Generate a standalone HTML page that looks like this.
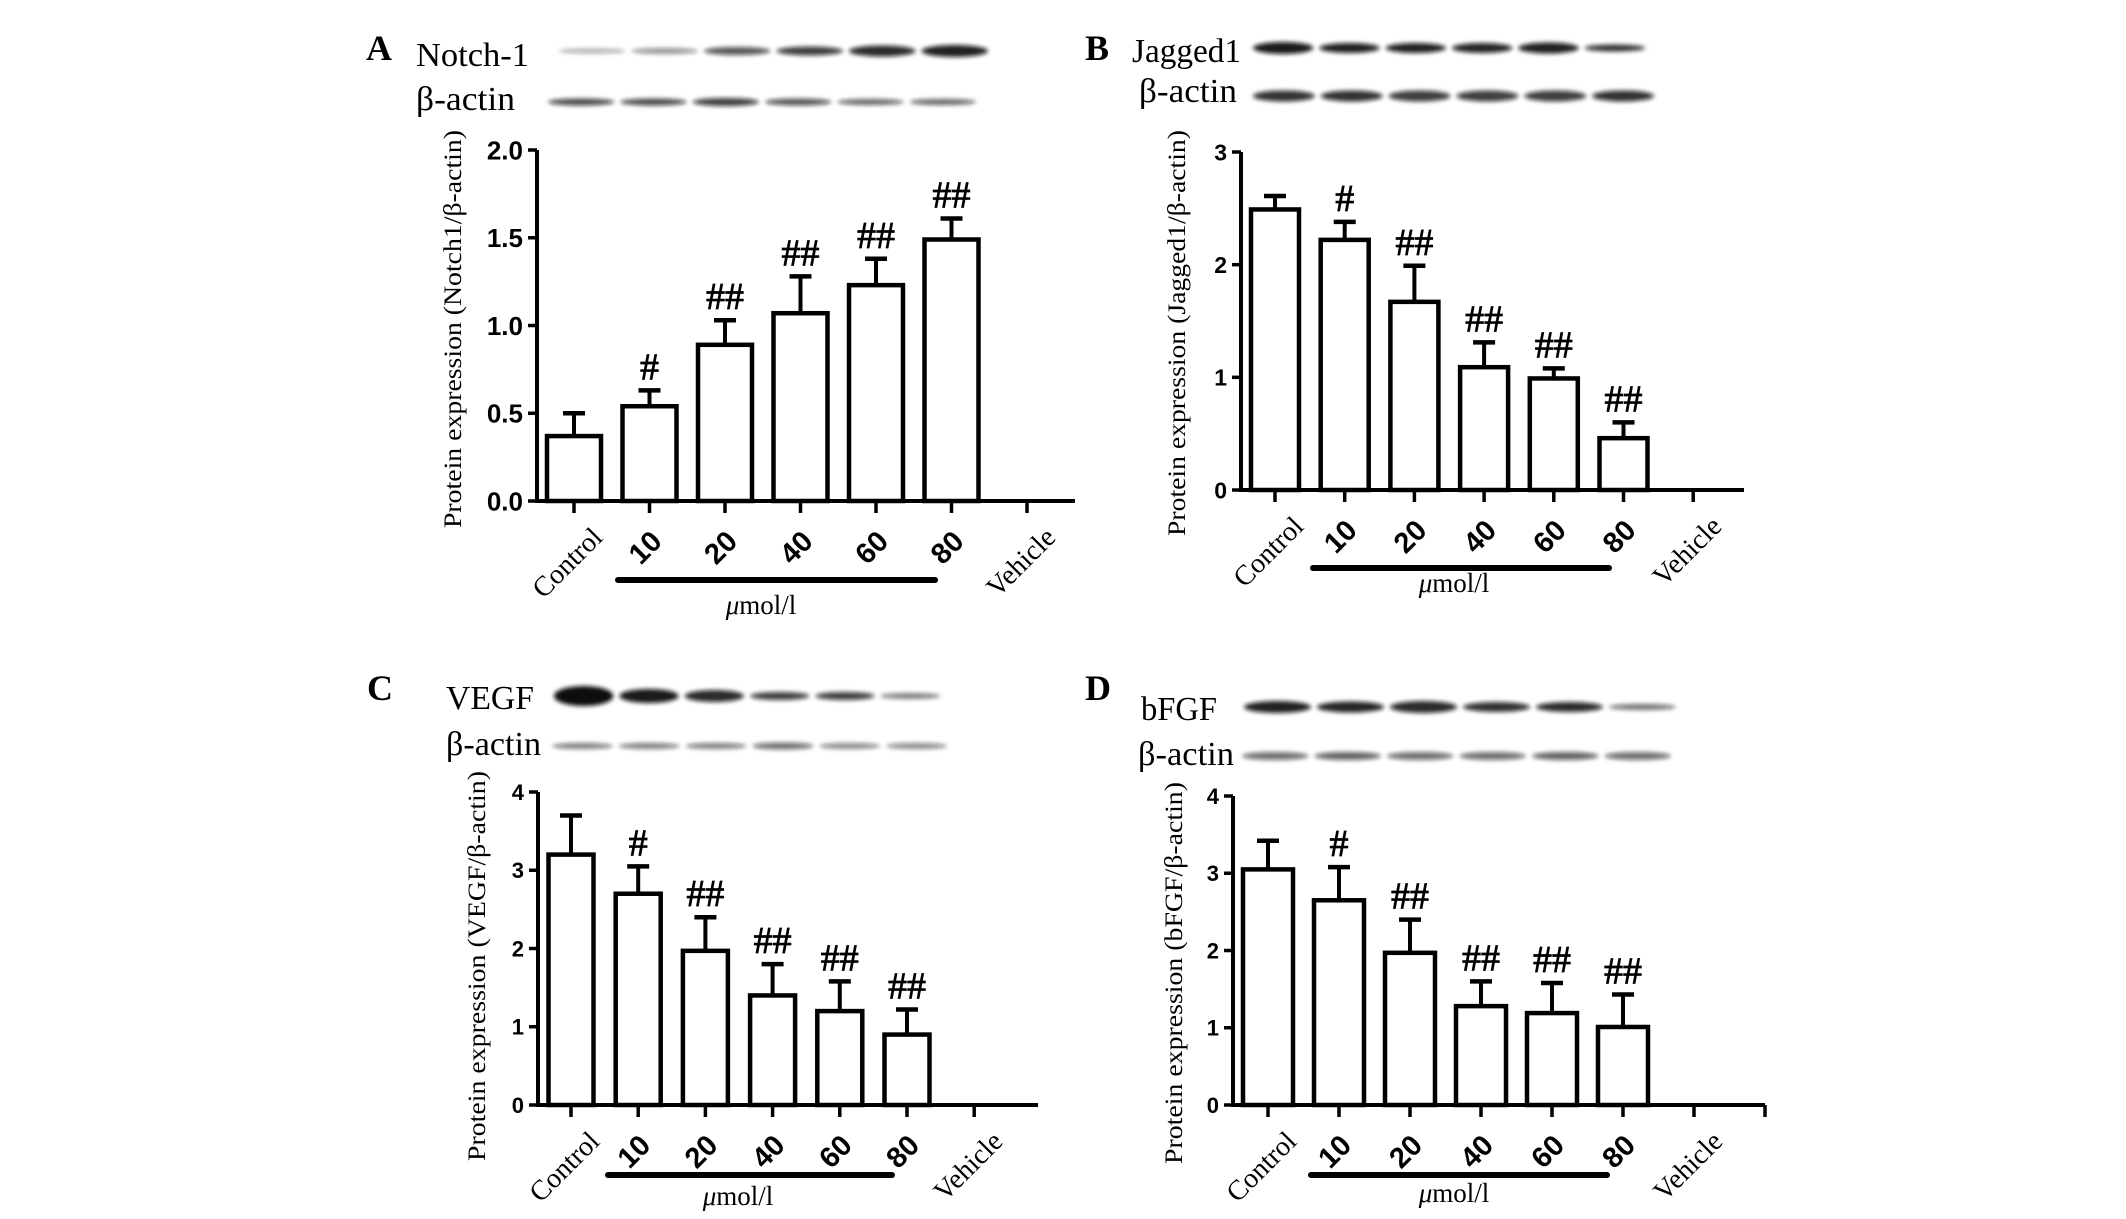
<!DOCTYPE html>
<html><head><meta charset="utf-8">
<style>
html,body{margin:0;padding:0;background:#fff;}
svg{display:block;}
.tm{font-family:"Liberation Serif",serif;}
.ar{font-family:"Liberation Sans",sans-serif;font-weight:bold;}
</style></head>
<body>
<svg id="fig" width="2126" height="1219" viewBox="0 0 2126 1219" xmlns="http://www.w3.org/2000/svg">
<defs>
<filter id="blur" x="-20%" y="-200%" width="140%" height="500%"><feGaussianBlur stdDeviation="2.2"/></filter>
</defs>
</svg>
<script>
// ---- data ----
const categories = ["Control","10","20","40","60","80","Vehicle"];
const notchMeans = [0.37,0.54,0.89,1.07,1.23,1.49];
const notchErr   = [0.50,0.63,1.03,1.28,1.38,1.61];
const notchMarks = ["","#","##","##","##","##"];
const notchTicks = [0,0.5,1,1.5,2];
const notchTickLabels = ["0.0","0.5","1.0","1.5","2.0"];
const jagMeans = [2.49,2.22,1.67,1.09,0.99,0.46];
const jagErr   = [2.61,2.38,1.99,1.31,1.08,0.60];
const jagMarks = ["","#","##","##","##","##"];
const jagTicks = [0,1,2,3];
const jagTickLabels = ["0","1","2","3"];
const vegfMeans = [3.2,2.7,1.97,1.4,1.2,0.9];
const vegfErr   = [3.7,3.05,2.4,1.8,1.58,1.22];
const vegfMarks = ["","#","##","##","##","##"];
const vegfTicks = [0,1,2,3,4];
const vegfTickLabels = ["0","1","2","3","4"];
const bfgfMeans = [3.05,2.65,1.97,1.28,1.19,1.01];
const bfgfErr   = [3.42,3.08,2.4,1.6,1.58,1.43];
const bfgfMarks = ["","#","##","##","##","##"];
const bfgfTicks = [0,1,2,3,4];
const bfgfTickLabels = ["0","1","2","3","4"];

const svg = document.getElementById('fig');
const NS = 'http://www.w3.org/2000/svg';
function mk(tag, attrs, parent){
  const el = document.createElementNS(NS, tag);
  for (const k in attrs) el.setAttribute(k, attrs[k]);
  (parent||svg).appendChild(el);
  return el;
}

const panels = [
 {id:'a', letter:'A', lx:366, ly:60, means:notchMeans, err:notchErr, marks:notchMarks, ticks:notchTicks, tickLabels:notchTickLabels,
  ax:537, y0:501, yTop:150, yMax:2, x0:574, step:75.5, barW:54, right:1075, endTick:false, tickFs:26,
  title:"Protein expression (Notch1/\u03b2-actin)", tx:453, ty0:130, ty1:528,
  prot:"Notch-1", px:416, pw:113, py:66, bx:416, bw:99, by:110,
  band1:{x0:556,x1:991,y:51, ry:[2.5,3,4,4.5,5.5,6], op:[.35,.45,.7,.8,.88,.92]},
  band2:{x0:545,x1:979,y:102, ry:[3.5,3.5,4,3.5,3,3], op:[.75,.75,.8,.7,.65,.65]},
  ul:[618,935,580], mu:[761,614]},
 {id:'b', letter:'B', lx:1085, ly:60, means:jagMeans, err:jagErr, marks:jagMarks, ticks:jagTicks, tickLabels:jagTickLabels,
  ax:1241, y0:490, yTop:152, yMax:3, x0:1275, step:69.7, barW:48, right:1744, endTick:false, tickFs:23,
  title:"Protein expression (Jagged1/\u03b2-actin)", tx:1177, ty0:130, ty1:536,
  prot:"Jagged1", px:1132, pw:109, py:62, bx:1139, bw:98, by:102,
  band1:{x0:1250,x1:1648,y:48, ry:[6,5,5,5,5.5,3.5], op:[.95,.92,.92,.9,.92,.85]},
  band2:{x0:1250,x1:1657,y:96, ry:[5.5,5.5,5.5,5.5,5.5,5.5], op:[.85,.85,.8,.8,.8,.85]},
  ul:[1313,1609,568], mu:[1454,592]},
 {id:'c', letter:'C', lx:367, ly:700, means:vegfMeans, err:vegfErr, marks:vegfMarks, ticks:vegfTicks, tickLabels:vegfTickLabels,
  ax:538, y0:1105, yTop:792, yMax:4, x0:571, step:67.2, barW:45, right:1038, endTick:false, tickFs:22,
  title:"Protein expression (VEGF/\u03b2-actin)", tx:477, ty0:771, ty1:1161,
  prot:"VEGF", px:446, pw:88, py:709, bx:446, bw:95, by:755,
  band1:{x0:551,x1:943,y:696, ry:[10,7,6,4,4,3], op:[1,.95,.88,.8,.8,.55]},
  band2:{x0:549,x1:950,y:746, ry:[3,3,3,3.5,3,3], op:[.55,.55,.55,.6,.5,.5]},
  ul:[608,892,1175], mu:[738,1205]},
 {id:'d', letter:'D', lx:1085, ly:700, means:bfgfMeans, err:bfgfErr, marks:bfgfMarks, ticks:bfgfTicks, tickLabels:bfgfTickLabels,
  ax:1233, y0:1105, yTop:796, yMax:4, x0:1268, step:71, barW:50, right:1765, endTick:true, tickFs:22,
  title:"Protein expression (bFGF/\u03b2-actin)", tx:1174, ty0:782, ty1:1164,
  prot:"bFGF", px:1141, pw:76, py:720, bx:1138, bw:96, by:765,
  band1:{x0:1241,x1:1679,y:707, ry:[6,5.5,6,5,5,3], op:[.92,.9,.88,.85,.88,.6]},
  band2:{x0:1239,x1:1674,y:756, ry:[4,4,4,4,4,4], op:[.6,.65,.6,.6,.65,.6]},
  ul:[1311,1607,1175], mu:[1454,1202]}
];

panels.forEach(p => {
  const g = mk('g', {});
  
  
  const yS = v => p.y0 - (v / p.yMax) * (p.y0 - p.yTop);
  const xS = i => p.x0 + i * p.step;

  const L = mk('text', {x:p.lx, y:p.ly, class:'tm', 'font-size':36, 'font-weight':'bold'}, g);
  L.textContent = p.letter;
  
  

  const t1 = mk('text', {x:p.px, y:p.py, class:'tm', 'font-size':34, textLength:p.pw, lengthAdjust:'spacingAndGlyphs'}, g);
  t1.textContent = p.prot;
  
  
  const t2 = mk('text', {x:p.bx, y:p.by, class:'tm', 'font-size':34, textLength:p.bw, lengthAdjust:'spacingAndGlyphs'}, g);
  t2.textContent = '\u03b2-actin';
  
  

  [p.band1, p.band2].forEach((b, bi) => {
    const bg = mk('g', {filter:'url(#blur)'}, g);
    
    
    const lw = (b.x1 - b.x0) / 6;
    for (let i = 0; i < 6; i++) {
      const e = mk('ellipse', {cx: b.x0 + lw*(i+0.5), cy: b.y, rx: lw/2 - 3, ry: b.ry[i], fill:'#111', 'fill-opacity': b.op[i]}, bg);
      
      
    }
  });

  const ya = mk('line', {x1:p.ax, y1:p.yTop, x2:p.ax, y2:p.y0+2, stroke:'#000', 'stroke-width':4}, g);
  
  
  const xa = mk('line', {x1:p.ax-2, y1:p.y0, x2:p.right, y2:p.y0, stroke:'#000', 'stroke-width':4}, g);
  
  

  p.ticks.forEach((v, i) => {
    const tk = mk('line', {x1:p.ax-9, y1:yS(v), x2:p.ax, y2:yS(v), stroke:'#000', 'stroke-width':3.5}, g);
    
    
    const tl = mk('text', {x:p.ax-14, y:yS(v)+p.tickFs*0.36, class:'ar', 'font-size':p.tickFs, 'text-anchor':'end'}, g);
    tl.textContent = p.tickLabels[i];
    
    
  });

  const yt = mk('text', {x:p.tx+8, y:(p.ty0+p.ty1)/2, class:'tm', 'font-size':25, 'text-anchor':'middle',
    textLength:(p.ty1-p.ty0), lengthAdjust:'spacingAndGlyphs',
    transform:`rotate(-90 ${p.tx+8} ${(p.ty0+p.ty1)/2})`}, g);
  yt.textContent = p.title;
  
  

  const nT = categories.length + (p.endTick ? 1 : 0);
  for (let i = 0; i < nT; i++) {
    const tx = xS(i);
    const t = mk('line', {x1:tx, y1:p.y0, x2:tx, y2:p.y0+12, stroke:'#000', 'stroke-width':3.5}, g);
    
    
  }
  categories.forEach((c, i) => {
    const isNum = /^\d+$/.test(c);
    const ax = xS(i) + (isNum ? 14 : 30);
    const ay = p.y0 + (isNum ? 42 : 38);
    const lab = mk('text', {x:ax, y:ay, class: isNum ? 'ar' : 'tm', 'font-size': isNum ? 29 : 28,
      'text-anchor':'end', transform:`rotate(-45 ${ax} ${ay})`}, g);
    lab.textContent = c;
    
    
  });

  p.means.forEach((m, i) => {
    const cx = xS(i);
    const top = yS(m);
    const eb = mk('line', {x1:cx, y1:top, x2:cx, y2:yS(p.err[i]), stroke:'#000', 'stroke-width':4}, g);
    
    
    const cap = mk('line', {x1:cx-11, y1:yS(p.err[i]), x2:cx+11, y2:yS(p.err[i]), stroke:'#000', 'stroke-width':4.5}, g);
    
    
    const r = mk('rect', {x:cx-p.barW/2, y:top, width:p.barW, height:p.y0-top, fill:'#fff', stroke:'#000', 'stroke-width':4.5}, g);
    
    
    if (p.marks[i]) {
      const mt = mk('text', {x:cx, y:yS(p.err[i])-11, class:'tm', 'font-size':38, 'text-anchor':'middle', stroke:'#000', 'stroke-width':0.8}, g);
      mt.textContent = p.marks[i];
      
      
    }
  });

  const ul = mk('line', {x1:p.ul[0], y1:p.ul[2], x2:p.ul[1], y2:p.ul[2], stroke:'#000', 'stroke-width':6, 'stroke-linecap':'round'}, g);
  
  
  const mu = mk('text', {x:p.mu[0], y:p.mu[1], class:'tm', 'font-size':27, 'text-anchor':'middle'}, g);
  mu.innerHTML = '<tspan font-style="italic">\u03bc</tspan>mol/l';
  
  
});
</script>
</body></html>
